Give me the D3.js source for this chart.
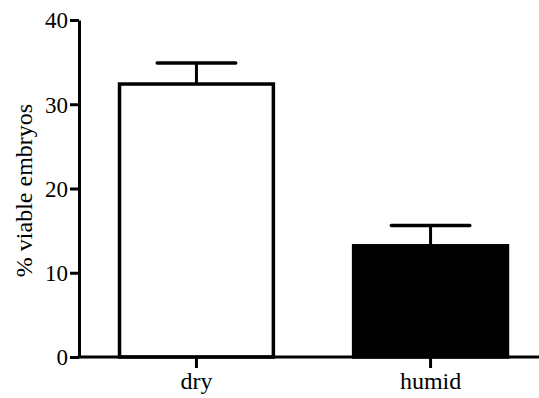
<!DOCTYPE html>
<html>
<head>
<meta charset="utf-8">
<script src="https://cdn.jsdelivr.net/npm/d3@7"></script>
</head>
<body style="margin:0">
<div id="chart"></div>
<script>
// data
const groups = ['dry', 'humid'];
const means = [32.4, 13.2];
const errors = [2.5, 2.4];
const fills = ['#fff', '#000'];
const yTicks = [0, 10, 20, 30, 40];

const W = 539, H = 398;
const x0 = 79, y0 = 357, yTop = 20;

const svg = d3.select('#chart').append('svg')
  .attr('width', W).attr('height', H);

const y = d3.scaleLinear().domain([0, 40]).range([y0, yTop]);
const x = d3.scaleBand().domain(groups)
  .range([x0, 548]).paddingInner(0.33).paddingOuter(0.1667);

// error bars (drawn under bars)
const eb = svg.append('g');
groups.forEach((g, i) => {
  const cx = x(g) + x.bandwidth() / 2;
  const capW = x.bandwidth() / 2;
  eb.append('line')
    .attr('x1', cx).attr('x2', cx)
    .attr('y1', y(means[i])).attr('y2', y(means[i] + errors[i]))
    .attr('stroke', '#000').attr('stroke-width', 3);
  eb.append('line')
    .attr('x1', cx - capW / 2).attr('x2', cx + capW / 2)
    .attr('y1', y(means[i] + errors[i])).attr('y2', y(means[i] + errors[i]))
    .attr('stroke', '#000').attr('stroke-width', 3.5).attr('stroke-linecap', 'round');
});

// bars
svg.append('g').selectAll('rect')
  .data(groups)
  .join('rect')
  .attr('x', d => x(d) + 1.5)
  .attr('y', (d, i) => y(means[i]))
  .attr('width', x.bandwidth() - 3)
  .attr('height', (d, i) => y0 - y(means[i]))
  .attr('fill', (d, i) => fills[i])
  .attr('stroke', '#000')
  .attr('stroke-width', 3.5);

// y axis
const yAxis = svg.append('g')
  .attr('transform', `translate(${x0},0)`)
  .call(d3.axisLeft(y).tickValues(yTicks).tickSize(9).tickPadding(2).tickSizeOuter(0));
yAxis.select('.domain').attr('stroke-width', 3);
yAxis.selectAll('.tick line').attr('stroke-width', 3);
yAxis.selectAll('.tick text')
  .attr('dy', '0.34em')
  .attr('style', 'font-family: Liberation Serif; font-size: 23px');

// x axis
const xAxis = svg.append('g')
  .attr('transform', `translate(0,${y0})`)
  .call(d3.axisBottom(x).tickSize(11).tickPadding(4).tickSizeOuter(0));
xAxis.select('.domain').attr('d', `M${x0 - 1.5},0H${W}`).attr('stroke-width', 3);
xAxis.selectAll('.tick line').attr('stroke-width', 3);
xAxis.selectAll('.tick text')
  .attr('style', 'font-family: Liberation Serif; font-size: 24px');

// y axis title
svg.append('text')
  .attr('transform', `translate(32,${(y0 + yTop) / 2 + 2}) rotate(-90)`)
  .attr('text-anchor', 'middle')
  .attr('style', 'font-family: Liberation Serif; font-size: 24px')
  .text('% viable embryos');
</script>
</body>
</html>
